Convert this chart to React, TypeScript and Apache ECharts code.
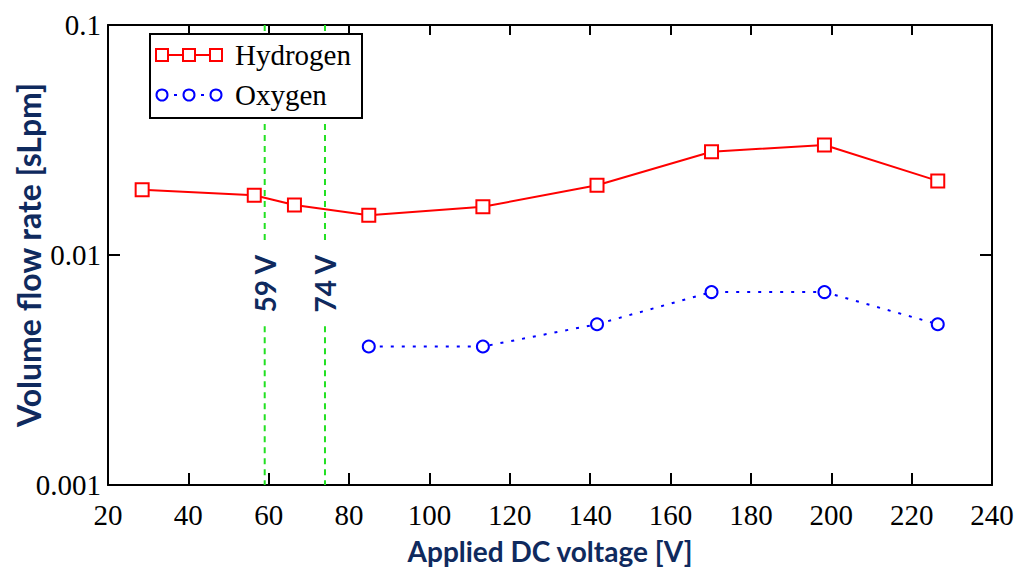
import React, { useEffect, useRef } from "react";
import * as echarts from "echarts";

const h2Voltage = [28.5, 56.4, 66.4, 84.9, 113.3, 141.7, 170.2, 198.3, 226.5];
const h2Flow = [0.0192, 0.0182, 0.0165, 0.0149, 0.0162, 0.0201, 0.0281, 0.0301, 0.021];
const o2Voltage = [84.9, 113.3, 141.7, 170.2, 198.3, 226.5];
const o2Flow = [0.004, 0.004, 0.005, 0.0069, 0.0069, 0.005];
const markerVoltages = [59, 74];
const markerLabels = ["59 V", "74 V"];
const yTickLabels = ["0.001", "0.01", "0.1"];
const legendNames = ["Hydrogen", "Oxygen"];

const NAVY = "#0f2a5e";
const SERIF = "'Liberation Serif', 'Times New Roman', serif";
const SANS = "Lato, 'Open Sans', sans-serif";

export default function App() {
  const ref = useRef<HTMLDivElement>(null);
  useEffect(() => {
    if (!ref.current) return;
    document.body.style.margin = "0";
    const chart = echarts.init(ref.current, null, { renderer: "svg" });
    const h2Data = h2Voltage.map((v, i) => [v, h2Flow[i]]);
    const o2Data = o2Voltage.map((v, i) => [v, o2Flow[i]]);
    const guideSeries: any[] = [];
    markerVoltages.forEach((v, i) => {
      guideSeries.push({
        type: "line",
        silent: true,
        symbol: "none",
        data: [[v, 0.1], [v, 0.0113]],
        lineStyle: { color: "#22e022", width: 2, type: [6, 5] },
        z: 1,
      });
      guideSeries.push({
        type: "line",
        silent: true,
        symbol: "none",
        data: [[v, 0.0049], [v, 0.001]],
        lineStyle: { color: "#22e022", width: 2, type: [6, 5] },
        z: 1,
      });
      guideSeries.push({
        type: "scatter",
        silent: true,
        symbol: "circle",
        symbolSize: 1,
        itemStyle: { color: "rgba(0,0,0,0)", opacity: 1 },
        data: [[v, 0.0075]],
        label: {
          show: true,
          position: "inside",
          rotate: 90,
          formatter: markerLabels[i],
          color: NAVY,
          fontFamily: SANS,
          fontWeight: "bold",
          fontSize: 28,
          opacity: 1,
        },
      });
    });

    const legendX = [162, 189, 216];
    const legendGraphic: any[] = [
      {
        type: "rect",
        shape: { x: 150, y: 34, width: 212, height: 84 },
        style: { fill: "#fff", stroke: "#000", lineWidth: 2 },
        z: 100,
      },
      {
        type: "line",
        shape: { x1: 156, y1: 55, x2: 222, y2: 55 },
        style: { stroke: "#ff0000", lineWidth: 2 },
        z: 101,
      },
      {
        type: "line",
        shape: { x1: 156, y1: 95, x2: 222, y2: 95 },
        style: { stroke: "#0000ff", lineWidth: 2, lineDash: [3, 6] },
        z: 101,
      },
      ...legendX.map((x) => ({
        type: "rect",
        shape: { x: x - 6, y: 49, width: 12, height: 12 },
        style: { fill: "#fff", stroke: "#ff0000", lineWidth: 2 },
        z: 102,
      })),
      ...legendX.map((x) => ({
        type: "circle",
        shape: { cx: x, cy: 95, r: 5.5 },
        style: { fill: "#fff", stroke: "#0000ff", lineWidth: 2 },
        z: 102,
      })),
      ...legendNames.map((n, i) => ({
        type: "text",
        x: 235,
        y: 55 + i * 40,
        style: {
          text: n,
          fontFamily: SERIF,
          fontSize: 29,
          fill: "#000",
          verticalAlign: "middle",
        },
        z: 102,
      })),
    ];

    chart.setOption({
      animation: false,
      backgroundColor: "#fff",
      grid: { left: 108, right: 31, top: 25, bottom: 82, containLabel: false, outerBoundsMode: "none" },
      xAxis: [
        {
          type: "value",
          min: 20,
          max: 240,
          interval: 20,
          position: "bottom",
          name: "Applied DC voltage [V]",
          nameLocation: "middle",
          nameGap: 52,
          nameMoveOverlap: false,
          nameTextStyle: { color: NAVY, fontFamily: SANS, fontWeight: "bold", fontSize: 28 },
          axisLine: { show: true, lineStyle: { color: "#000", width: 2 } },
          axisTick: { show: true, inside: true, length: 12, lineStyle: { color: "#000", width: 2 } },
          axisLabel: { color: "#000", fontFamily: SERIF, fontSize: 29, margin: 15 },
          splitLine: { show: false },
        },
        {
          type: "value",
          min: 20,
          max: 240,
          interval: 20,
          position: "top",
          axisLine: { show: true, lineStyle: { color: "#000", width: 2 } },
          axisTick: { show: true, inside: true, length: 10, lineStyle: { color: "#000", width: 2 } },
          axisLabel: { show: false },
          splitLine: { show: false },
        },
      ],
      yAxis: [
        {
          type: "log",
          logBase: 10,
          min: 0.001,
          max: 0.1,
          position: "left",
          name: "Volume flow rate [sLpm]",
          nameLocation: "middle",
          nameGap: 64,
          nameMoveOverlap: false,
          nameTextStyle: { color: NAVY, fontFamily: SANS, fontWeight: "bold", fontSize: 32 },
          axisLine: { show: true, lineStyle: { color: "#000", width: 2 } },
          axisTick: { show: true, inside: true, length: 12, lineStyle: { color: "#000", width: 2 } },
          axisLabel: {
            color: "#000",
            fontFamily: SERIF,
            fontSize: 29,
            margin: 7,
            formatter: (v: number) => yTickLabels[Math.round(Math.log10(v)) + 3] ?? "",
          },
          splitLine: { show: false },
          minorTick: { show: false },
        },
        {
          type: "log",
          logBase: 10,
          min: 0.001,
          max: 0.1,
          position: "right",
          axisLine: { show: true, lineStyle: { color: "#000", width: 2 } },
          axisTick: { show: true, inside: true, length: 12, lineStyle: { color: "#000", width: 2 } },
          axisLabel: { show: false },
          splitLine: { show: false },
        },
      ],
      series: [
        ...guideSeries,
        {
          name: "Hydrogen",
          type: "line",
          data: h2Data,
          symbol: "rect",
          symbolSize: 13,
          itemStyle: { color: "#fff", borderColor: "#ff0000", borderWidth: 2 },
          lineStyle: { color: "#ff0000", width: 2 },
          z: 5,
        },
        {
          name: "Oxygen",
          type: "line",
          data: o2Data,
          symbol: "circle",
          symbolSize: 12,
          itemStyle: { color: "#fff", borderColor: "#0000ff", borderWidth: 2 },
          lineStyle: { color: "#0000ff", width: 2, type: [3, 8] },
          z: 5,
        },
      ],
      graphic: legendGraphic,
    });
    return () => chart.dispose();
  }, []);
  return <div ref={ref} style={{ width: 1023, height: 567 }} />;
}
